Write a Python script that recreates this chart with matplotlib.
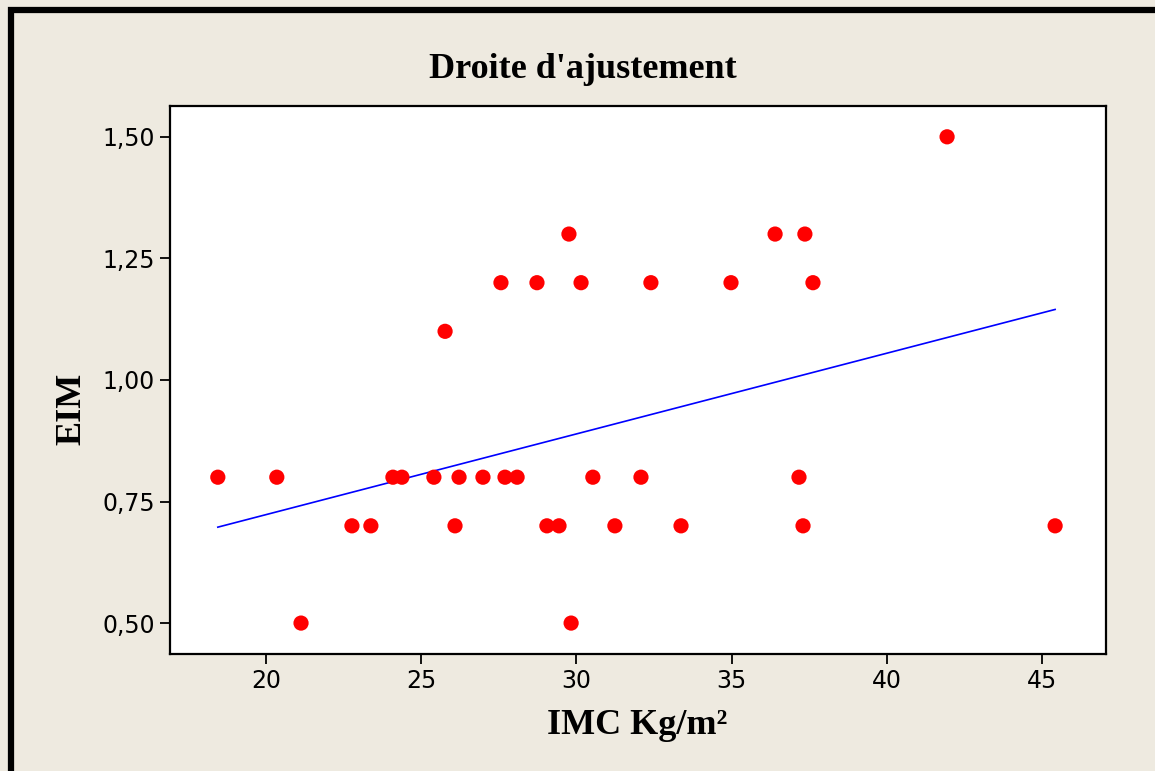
import numpy as np
import matplotlib.pyplot as plt
from matplotlib.patches import Rectangle

# données
imc = [18.45, 20.35, 21.13, 22.77, 23.38, 24.09, 24.38, 25.41, 25.77, 26.09,
       26.22, 26.99, 27.57, 27.70, 28.09, 28.73, 29.05, 29.44, 29.76, 29.83,
       30.15, 30.53, 31.24, 32.08, 32.40, 33.37, 34.98, 36.40, 37.17, 37.30,
       37.36, 37.62, 41.94, 45.42]
eim = [0.80, 0.80, 0.50, 0.70, 0.70, 0.80, 0.80, 0.80, 1.10, 0.70,
       0.80, 0.80, 1.20, 0.80, 0.80, 1.20, 0.70, 0.70, 1.30, 0.50,
       1.20, 0.80, 0.70, 0.80, 1.20, 0.70, 1.20, 1.30, 0.80, 0.70,
       1.30, 1.20, 1.50, 0.70]
# droite d'ajustement
fit_intercept = 0.391
fit_slope = 0.0166
xticks = [20, 25, 30, 35, 40, 45]
yticks = [0.50, 0.75, 1.00, 1.25, 1.50]
ytick_labels = ["0,50", "0,75", "1,00", "1,25", "1,50"]

bg = "#EEEAE0"
fig = plt.figure(figsize=(11.55, 7.71), dpi=100, facecolor=bg)
ax = fig.add_axes([0.1472, 0.1518, 0.8104, 0.7108])

xs = np.array([min(imc), max(imc)])
ax.plot(xs, fit_intercept + fit_slope * xs, color="#0000FF", lw=1.2, zorder=2)

ax.scatter(imc, eim, s=120, color="#FF0000", edgecolors="none", zorder=3)

ax.set_xlim(16.91, 47.06)
ax.set_ylim(0.4365, 1.5635)
ax.set_xticks(xticks)
ax.set_yticks(yticks)
ax.set_yticklabels(ytick_labels)
ax.tick_params(direction="out", length=7, width=1.3, labelsize=17,
               colors="black", pad=4)
for s in ax.spines.values():
    s.set_linewidth(1.6)

serif = "Liberation Serif"
ax.set_xlabel("IMC Kg/m²", fontsize=26, fontweight="bold", family=serif)
ax.xaxis.label.set_va("baseline")
ax.xaxis.set_label_coords(0.499, -0.146)
ax.set_ylabel("EIM", fontsize=26, fontweight="bold", family=serif)
ax.yaxis.label.set_va("baseline")
ax.yaxis.set_label_coords(-0.0962, 0.447)
fig.text(0.5043, 0.8988, "Droite d'ajustement", ha="center", va="baseline",
         fontsize=26, fontweight="bold", family=serif)

# cadre noir (haut et gauche)
fig.patches.append(Rectangle((10.5 / 1155, -0.1), 2, 1.1 - 10 / 771,
                             transform=fig.transFigure, fill=False,
                             edgecolor="black", lw=4.5))

fig.savefig("out.png", dpi=100, facecolor=bg)
